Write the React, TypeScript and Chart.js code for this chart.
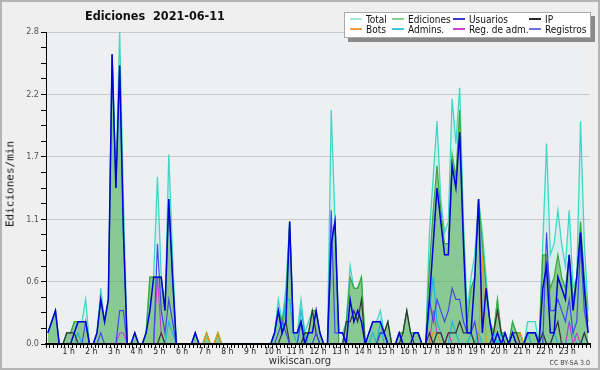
import React, { useEffect, useRef } from 'react';
import { Chart, registerables } from 'chart.js';

Chart.register(...registerables);

// 10-minute buckets, 144 per day (edits per minute)
const TOTAL = [
  0.1,0.2,0.3,0,0,0.1, 0.1,0.2,0.2,0.2,0.4,0,
  0,0.1,0.5,0.2,0.4,2.6, 1.5,2.8,1.3,0,0,0.1,
  0,0,0.1,0.6,0.6,1.5, 0.6,0.3,1.7,0.8,0,0,
  0,0,0,0.1,0,0, 0.1,0,0,0.1,0,0,
  0,0,0,0,0,0, 0,0,0,0,0,0,
  0.1,0.4,0.2,0.5,1.1,0.1, 0.1,0.4,0.1,0.2,0.3,0.3,
  0.1,0,0,2.1,1.1,0.1, 0.1,0.2,0.7,0.5,0.5,0.6,
  0,0.1,0.2,0.2,0.3,0.1, 0.2,0,0,0.1,0.1,0.3,
  0.1,0.1,0.1,0,0,1.0, 1.5,2.0,1.3,1.0,1.1,2.2,
  1.8,2.3,1.1,0.3,0.6,0.8, 1.3,1.0,0.6,0.2,0.1,0.4,
  0.1,0.1,0,0.2,0.1,0.1, 0,0.2,0.2,0.2,0,0.9,
  1.8,0.8,0.9,1.2,0.9,0.7, 1.2,0.5,0.6,2.0,0.9,0.3,
];

const EDICIONES = [
  0.1,0.2,0.3,0,0,0.1, 0.1,0.2,0.2,0.2,0.2,0,
  0,0.1,0.4,0.2,0.4,2.6, 1.4,2.5,1.0,0,0,0.1,
  0,0,0.1,0.6,0.6,0.6, 0.6,0.3,1.3,0.6,0,0,
  0,0,0,0.1,0,0, 0.1,0,0,0.1,0,0,
  0,0,0,0,0,0, 0,0,0,0,0,0,
  0.1,0.3,0.2,0.4,1.1,0.1, 0.1,0.2,0.1,0.1,0.3,0.3,
  0.1,0,0,0.9,1.1,0, 0,0.2,0.6,0.5,0.5,0.6,
  0,0.1,0.2,0.2,0.2,0.1, 0.2,0,0,0.1,0.1,0.3,
  0.1,0.1,0.1,0,0,0.7, 1.2,1.6,1.2,0.9,0.9,1.7,
  1.5,2.1,1.0,0.2,0.5,0.6, 1.3,0.9,0.5,0.2,0.1,0.4,
  0.1,0.1,0,0.2,0.1,0.1, 0,0.1,0.1,0.1,0,0.8,
  0.8,0.5,0.6,0.8,0.6,0.5, 0.8,0.4,0.6,1.1,0.6,0.2,
];

const USUARIOS = [
  0.1,0.2,0.3,0,0,0, 0,0.1,0.2,0.2,0.2,0,
  0,0.1,0.4,0.2,0.4,2.6, 1.4,2.5,1.0,0,0,0.1,
  0,0,0.1,0.3,0.6,0.6, 0.6,0.3,1.3,0.6,0,0,
  0,0,0,0.1,0,0, 0,0,0,0,0,0,
  0,0,0,0,0,0, 0,0,0,0,0,0,
  0.1,0.3,0.1,0.2,1.1,0.1, 0.1,0.2,0,0.1,0.1,0.3,
  0.1,0,0,0.9,1.1,0.1, 0.1,0,0.4,0.2,0.3,0.2,
  0,0.1,0.2,0.2,0.2,0.1, 0,0,0,0.1,0,0,
  0,0.1,0.1,0,0,0.4, 0.9,1.4,1.1,0.8,0.8,1.6,
  1.4,1.9,0.9,0.1,0.1,0.6, 1.3,0.1,0.5,0.2,0,0.1,
  0,0.1,0,0.1,0,0, 0,0.1,0.1,0.1,0,0.5,
  0.7,0.1,0.1,0.6,0.5,0.4, 0.8,0.3,0.6,1.0,0.5,0.1,
];

const IP = [
  0,0,0,0,0,0.1, 0.1,0.1,0,0,0,0,
  0,0,0,0,0,0, 0,0,0,0,0,0,
  0,0,0,0,0,0, 0.1,0,0,0,0,0,
  0,0,0,0,0,0, 0,0,0,0,0,0,
  0,0,0,0,0,0, 0,0,0,0,0,0,
  0,0,0.1,0.2,0,0, 0,0,0.1,0.1,0.3,0.1,
  0,0,0,0,0,0, 0,0.2,0.2,0.3,0.2,0.4,
  0,0,0,0,0.1,0.1, 0.2,0,0,0,0.1,0.3,
  0.1,0,0,0,0,0.1, 0,0.1,0.1,0,0.1,0.1,
  0.1,0.2,0.1,0.1,0.1,0, 0,0,0,0,0.1,0.3,
  0.1,0,0,0.1,0.1,0, 0,0,0,0,0,0.1,
  0,0,0.1,0.2,0,0, 0,0,0,0,0.1,0,
];

const BOTS = [
  0,0,0,0,0,0, 0,0,0,0,0,0,
  0,0,0,0,0,0, 0,0,0,0,0,0,
  0,0,0,0,0,0, 0,0,0,0,0,0,
  0,0,0,0,0,0, 0.1,0,0,0.1,0,0,
  0,0,0,0,0,0, 0,0,0,0,0,0,
  0,0,0,0,0,0, 0,0,0,0,0,0,
  0,0,0,0,0,0, 0,0,0,0,0,0,
  0,0,0,0,0,0, 0,0,0,0,0,0,
  0,0,0,0,0,0, 0.1,0.1,0,0,0,0,
  0,0,0,0,0,0, 0,0.8,0,0,0,0,
  0,0,0,0,0,0.1, 0,0,0,0,0,0,
  0,0,0,0,0,0, 0,0,0,0,0,0,
];

const ADMINS = [
  0,0,0,0,0,0, 0,0,0.1,0,0,0,
  0,0,0,0,0,0, 0,0,0,0,0,0,
  0,0,0,0,0,0, 0,0,0.2,0.1,0,0,
  0,0,0,0,0,0, 0,0,0,0,0,0,
  0,0,0,0,0,0, 0,0,0,0,0,0,
  0.1,0.3,0.1,0.4,0.4,0.1, 0,0.3,0.1,0,0,0,
  0,0,0,0,0,0, 0,0,0,0,0,0,
  0,0,0.1,0,0.2,0, 0,0,0,0,0,0,
  0,0,0,0,0,0.3, 0.6,0.2,0.1,0,0,0.2,
  0.1,0,0,0,0.1,0, 0.1,0,0,0,0.1,0,
  0.1,0,0,0.1,0,0, 0,0.1,0,0,0,0.1,
  0,0,0.1,0,0,0, 0.2,0.1,0,0,0.1,0,
];

const REG_ADM = [
  0,0,0,0,0,0, 0,0,0,0,0,0,
  0,0,0,0,0,0, 0,0.1,0.1,0,0,0,
  0,0,0,0,0,0.6, 0.1,0,0,0,0,0,
  0,0,0,0,0,0, 0,0,0,0,0,0,
  0,0,0,0,0,0, 0,0,0,0,0,0,
  0,0,0,0,0,0, 0,0,0,0,0,0,
  0,0,0,0,0,0, 0,0,0,0,0,0,
  0,0,0,0,0,0, 0,0,0,0,0,0,
  0,0,0,0,0,0, 0.3,0.1,0.1,0,0.1,0,
  0,0,0,0,0,0, 0,0,0,0,0,0,
  0,0,0,0,0,0, 0,0,0,0,0,0,
  0,0,0,0,0,0, 0.2,0,0.1,0,0,0,
];

const REGISTROS = [
  0,0,0,0,0,0, 0,0,0,0,0.2,0,
  0,0,0.1,0,0,0, 0,0.3,0.3,0,0,0,
  0,0,0,0,0,0.9, 0.3,0.1,0.4,0.2,0,0,
  0,0,0,0,0,0, 0,0,0,0,0,0,
  0,0,0,0,0,0, 0,0,0,0,0,0,
  0,0.1,0.2,0.1,0,0, 0,0.2,0,0,0,0.1,
  0,0,0,1.2,0.1,0.1, 0.1,0,0,0,0,0,
  0,0,0,0,0.1,0.1, 0,0,0,0.1,0,0,
  0,0,0,0,0,0.4, 0.2,0.4,0.3,0.2,0.3,0.5,
  0.4,0.4,0.2,0.1,0.1,0.2, 0,0,0,0,0,0,
  0,0,0,0,0,0, 0,0.1,0.1,0.1,0,0,
  1.0,0.3,0.3,0.4,0.3,0.2, 0.4,0.1,0.2,0.9,0.3,0.1,
];

const HOUR_LABELS = [
  '1 h','2 h','3 h','4 h','5 h','6 h','7 h','8 h','9 h','10 h','11 h','12 h',
  '13 h','14 h','15 h','16 h','17 h','18 h','19 h','20 h','21 h','22 h','23 h',
];
const Y_TICK_LABELS = ['0.0', '0.6', '1.1', '1.7', '2.2', '2.8'];

const LEGEND_ITEMS = [
  { label: 'Total', color: '#a6e6de', left: 350, top: 14 },
  { label: 'Ediciones', color: '#8fd08f', left: 392, top: 14 },
  { label: 'Usuarios', color: '#3a3acc', left: 453, top: 14 },
  { label: 'IP', color: '#2a2a2a', left: 529, top: 14 },
  { label: 'Bots', color: '#f0a040', left: 350, top: 24 },
  { label: 'Admins.', color: '#44c8d8', left: 392, top: 24 },
  { label: 'Reg. de adm.', color: '#cc44cc', left: 453, top: 24 },
  { label: 'Registros', color: '#7070e6', left: 529, top: 24 },
];

const toPoints = (arr: number[]) => arr.map((v, i) => ({ x: i + 0.5, y: v }));

const bgPlugin = {
  id: 'plotBg',
  beforeDraw(chart: any) {
    const { ctx, chartArea } = chart;
    if (!chartArea) return;
    ctx.save();
    ctx.fillStyle = '#eeeff1';
    ctx.fillRect(chartArea.left, chartArea.top, chartArea.right - chartArea.left, chartArea.bottom - chartArea.top);
    ctx.restore();
  },
};

export default function App() {
  const ref = useRef<HTMLCanvasElement | null>(null);

  useEffect(() => {
    document.body.style.margin = '0';
    if (!ref.current) return;
    const line = (label: string, data: number[], color: string, width: number, extra: any = {}) => ({
      label,
      data: toPoints(data),
      borderColor: color,
      borderWidth: width,
      pointRadius: 0,
      tension: 0,
      fill: false,
      ...extra,
    });
    const chart = new Chart(ref.current, {
      type: 'line',
      data: {
        datasets: [
          line('Usuarios', USUARIOS, '#0000dd', 1.5),
          line('Registros', REGISTROS, '#4646f0', 1.2),
          line('IP', IP, '#333333', 1.2),
          line('Reg. de adm.', REG_ADM, '#cc33cc', 1),
          line('Bots', BOTS, '#e89a10', 1.2),
          line('Admins.', ADMINS, '#1cb8e0', 1.2),
          line('Ediciones', EDICIONES, '#3aaa3a', 1.2, { fill: 'origin', backgroundColor: 'rgba(60,165,60,0.5)' }),
          line('Total', TOTAL, '#3fd8c8', 1.3, { fill: 'origin', backgroundColor: 'rgba(64,224,208,0.13)' }),
        ],
      },
      options: {
        animation: false,
        responsive: false,
        maintainAspectRatio: false,
        layout: { padding: { left: 0, right: 10, top: 32, bottom: 0 } },
        plugins: {
          legend: { display: false },
          title: { display: false },
          tooltip: { enabled: false },
        },
        scales: {
          x: {
            type: 'linear',
            min: 0,
            max: 144,
            border: { display: true, color: '#000', width: 2, z: 2 },
            grid: { drawOnChartArea: false, drawTicks: true, tickLength: 4, tickColor: '#000', tickWidth: 1, z: 2 },
            ticks: {
              stepSize: 1,
              autoSkip: false,
              maxRotation: 0,
              minRotation: 0,
              padding: -1,
              z: 2,
              color: '#222',
              font: { family: 'DejaVu Sans Condensed', size: 8.5 },
              callback: (value: any) => {
                const v = Math.round(Number(value));
                return v % 6 === 0 && v > 0 && v < 144 ? HOUR_LABELS[v / 6 - 1] : '';
              },
            },
            afterFit: (s: any) => { s.height = 26; },
          },
          y: {
            min: 0,
            max: 2.8,
            border: { display: true, color: '#000', width: 1, z: 2 },
            grid: {
              color: (c: any) => (c.index % 4 === 0 && c.index > 0 ? '#c9c9c9' : 'rgba(0,0,0,0)'),
              tickColor: '#000',
              tickLength: 5,
              lineWidth: 1,
            },
            ticks: {
              stepSize: 0.14,
              autoSkip: false,
              padding: 2,
              color: '#555',
              font: { family: 'DejaVu Sans Condensed', size: 9 },
              callback: (_v: any, index: number) => (index % 4 === 0 ? Y_TICK_LABELS[index / 4] : ''),
            },
            afterFit: (s: any) => { s.width = 46; },
          },
        },
      } as any,
      plugins: [bgPlugin],
    });
    return () => chart.destroy();
  }, []);

  return (
    <div style={{ position: 'relative', width: 600, height: 370, background: '#efefef', overflow: 'hidden' }}>
      <canvas ref={ref} width={600} height={370} style={{ position: 'absolute', left: 0, top: 0, width: 600, height: 370 }} />
      <div style={{ position: 'absolute', left: 85, top: 9, fontFamily: 'DejaVu Sans Condensed, DejaVu Sans', fontWeight: 'bold', fontSize: 12.5, lineHeight: '14px', color: '#111', whiteSpace: 'pre' }}>
        {'Ediciones  2021-06-11'}
      </div>
      <div style={{ position: 'absolute', left: 10, top: 184, transform: 'translate(-50%, -50%) rotate(-90deg)', fontFamily: 'DejaVu Sans Mono', fontSize: 11, color: '#111', whiteSpace: 'nowrap' }}>
        Ediciones/min
      </div>
      <div style={{ position: 'absolute', left: 344, top: 12, width: 247, height: 26, background: '#fff', border: '1px solid #aaa', boxSizing: 'border-box', boxShadow: '4px 4px 0 #8a8a8a' }} />
      {LEGEND_ITEMS.map((it) => (
        <React.Fragment key={it.label}>
          <div style={{ position: 'absolute', left: it.left, top: it.top + 4, width: 12, height: 1.5, background: it.color }} />
          <div style={{ position: 'absolute', left: it.left + 16, top: it.top - 0.5, fontFamily: 'DejaVu Sans Condensed, DejaVu Sans', fontSize: 10, lineHeight: '11px', color: '#111', whiteSpace: 'nowrap' }}>
            {it.label}
          </div>
        </React.Fragment>
      ))}
      <div style={{ position: 'absolute', left: 300, top: 355, transform: 'translateX(-50%)', fontFamily: 'DejaVu Sans', fontSize: 10, lineHeight: '12px', color: '#333', whiteSpace: 'nowrap' }}>
        wikiscan.org
      </div>
      <div style={{ position: 'absolute', right: 10, top: 359, fontFamily: 'DejaVu Sans Condensed, DejaVu Sans', fontSize: 7, lineHeight: '8px', color: '#444', whiteSpace: 'nowrap' }}>
        CC BY-SA 3.0
      </div>
      <div style={{ position: 'absolute', left: 0, top: 0, width: 600, height: 370, border: '2px solid #b4b4b4', boxSizing: 'border-box', pointerEvents: 'none' }} />
    </div>
  );
}
